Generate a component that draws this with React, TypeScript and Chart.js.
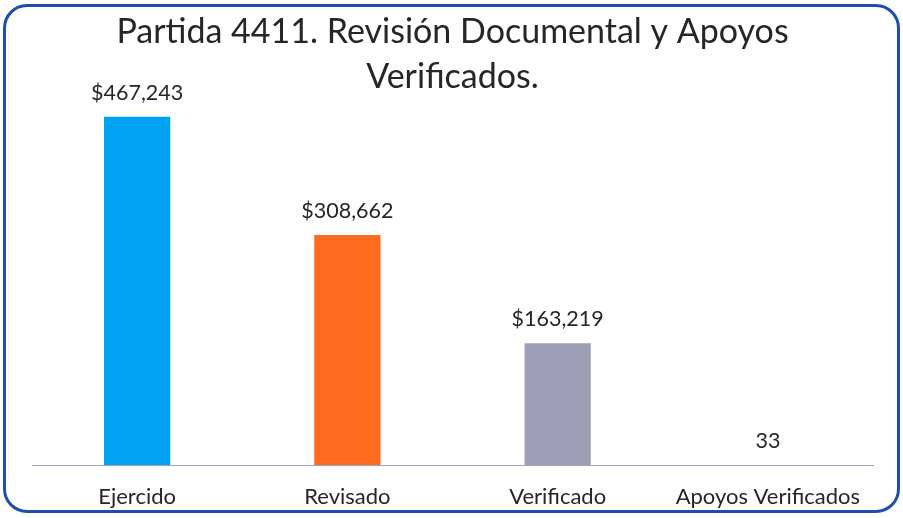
import React, { useEffect, useRef } from "react";
import { Chart, registerables } from "chart.js";

Chart.register(...registerables);

const titleLines = ["Partida 4411. Revisión Documental y Apoyos", "Verificados."];
const categories = ["Ejercido", "Revisado", "Verificado", "Apoyos Verificados"];
const values = [467243, 308662, 163219, 33];
const valueLabels = ["$467,243", "$308,662", "$163,219", "33"];
const barColors = ["#00a3f2", "#ff6a1f", "#9c9fb6"];

const FONT = "Lato, 'Open Sans', sans-serif";

const valueLabelPlugin = {
  id: "valueLabels",
  afterDatasetsDraw(chart: any) {
    const ctx = chart.ctx;
    const meta = chart.getDatasetMeta(0);
    ctx.save();
    ctx.font = `21.5px ${FONT}`;
    ctx.fillStyle = "#262626";
    ctx.textAlign = "center";
    ctx.textBaseline = "middle";
    meta.data.forEach((bar: any, i: number) => {
      ctx.fillText(valueLabels[i], bar.x, bar.y - 24);
    });
    ctx.restore();
  },
};

export default function App() {
  const ref = useRef<HTMLCanvasElement>(null);
  useEffect(() => {
    if (!ref.current) return;
    const chart = new Chart(ref.current, {
      type: "bar",
      data: {
        labels: categories,
        datasets: [
          {
            data: values,
            backgroundColor: barColors,
            barPercentage: 1,
            categoryPercentage: 0.315,
          },
        ],
      },
      options: {
        responsive: false,
        animation: false,
        layout: { padding: { left: 32, right: 30, top: 0, bottom: 9 } },
        plugins: {
          legend: { display: false },
          tooltip: { enabled: false },
          title: {
            display: true,
            text: titleLines,
            color: "#262626",
            font: { family: FONT, size: 34, weight: "normal", lineHeight: 1.32 },
            padding: { top: 10, bottom: 0 },
          },
        },
        scales: {
          y: { display: false, min: 0, max: 490000 },
          x: {
            grid: { display: false, drawTicks: false },
            border: { display: true, color: "#9ea4c2", width: 1, dash: [2, 1] },
            ticks: { color: "#262626", font: { family: FONT, size: 22 }, padding: 19 },
            afterFit: (scale: any) => {
              scale.height = 44;
            },
          },
        },
      },
      plugins: [valueLabelPlugin],
    });
    return () => chart.destroy();
  }, []);
  return (
    <div style={{ position: "fixed", left: 0, top: 0, width: 903, height: 518, background: "#fff" }}>
      <canvas ref={ref} width={903} height={518} style={{ position: "absolute", left: 0, top: 0 }} />
      <div
        style={{
          position: "absolute",
          left: 3,
          top: 4,
          width: 891,
          height: 503,
          border: "3px solid #1f4fae",
          borderRadius: 24,
          pointerEvents: "none",
        }}
      />
    </div>
  );
}
